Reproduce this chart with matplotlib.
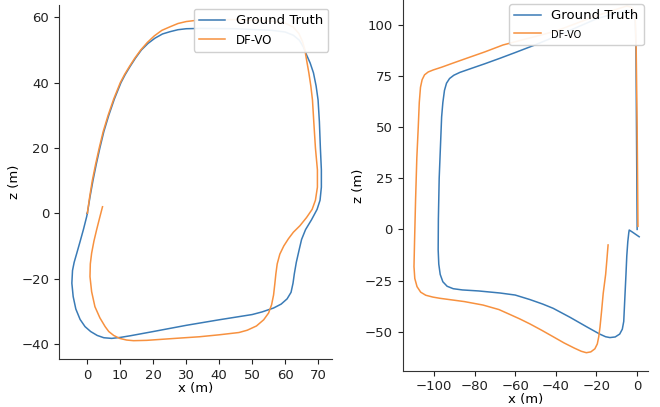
import matplotlib
matplotlib.use("Agg")
import matplotlib.pyplot as plt

# Sequence A: ground truth and DF-VO trajectories (x, z in metres)
seq_a_gt_x = [0, 0.8, 1.7, 2.7, 3.8, 5.0, 6.5, 8.2, 10.2, 11.5, 13, 14.6, 16.4, 18.4, 20.5, 22.8,
              25.1, 27.5, 30, 34.2, 45, 56, 60, 62.5, 64.3, 65.5, 66.5, 67.6, 68.6, 69.4,
              70, 70.4, 70.7, 71, 71, 70.6, 69.7, 68, 66.2, 65, 64.3, 63.4, 62.8, 62.4,
              61.8, 60.6, 58.8, 56.5, 53, 50, 40, 30, 20, 13, 10, 7.4, 5, 3, 1, -0.7,
              -2.2, -3.5, -4.3, -4.7, -4.5, -4, -3.2, -2.3, -1.2, -0.2, 0]
seq_a_gt_z = [0, 5, 10, 15, 20, 25, 30, 35, 40, 42.5, 45, 47.5, 50, 52, 53.6, 54.9,
              55.6, 56.2, 56.5, 56.6, 56.5, 56, 55.5, 54.5, 53, 51, 48.5, 46, 43, 39,
              34.7, 28, 20, 13.3, 8, 4, 1.2, -2, -5, -8, -11, -15, -18.5, -21.4,
              -24.2, -26.2, -27.8, -29, -30.2, -31, -32.6, -34.3, -36.2, -37.5, -38, -38.3, -38.1, -37.4, -36.2, -34.7,
              -32.5, -29.3, -25.5, -21.4, -17.5, -15, -12.2, -9, -5, -1, 0]

seq_a_vo_x = [0, 0.7, 1.5, 2.5, 3.6, 4.8, 6.3, 8.0, 10, 11.3, 12.8, 14.4, 16.2, 18.2, 20.3, 22.6,
              25.1, 27.5, 30, 34.2, 45, 56, 60, 62.5, 64.2, 65.3, 66, 66.5, 67.2, 67.8,
              68.3, 68.7, 69.2, 69.8, 69.8, 69.2, 68.2, 66.5, 64.5, 62.5, 61, 59.6, 58.4,
              57.6, 57.2, 56.9, 56.5, 55.9, 55, 53.5, 51.3, 48.5, 46, 40, 34, 26.6, 18,
              14, 11.9, 9.8, 8, 6.5, 5.4, 3.8, 2.3, 1.3, 0.8, 0.9, 1.3, 2, 2.8, 3.7, 4.6]
seq_a_vo_z = [0, 5, 10, 15, 20, 25, 30, 35, 40, 42.5, 45, 47.5, 50, 52.3, 54.3, 56,
              57.1, 58.1, 58.7, 59.2, 59.3, 58.8, 58.2, 57, 55, 52.5, 50, 47, 43, 39,
              34.7, 28, 20, 13.3, 8, 4, 1.2, -1.3, -3.8, -5.8, -7.8, -10, -12.5,
              -15.5, -18.5, -21.4, -25, -28, -30.5, -32.6, -34.5, -35.8, -36.5, -37.2, -37.8, -38.3, -38.9,
              -39, -38.8, -38.3, -37.4, -36.2, -34.7, -32, -28.6, -24, -19.4, -15.5, -12.2, -8.5, -5.1, -1.5, 2]

# Sequence B: ground truth and DF-VO trajectories (x, z in metres)
seq_b_gt_x = [0, -0.3, -0.6, -1, -2.5, -5, -20, -35, -50.3, -60, -67.5, -75, -82, -87.2,
              -90.2, -92.3, -93.8, -94.8, -95.6, -96.2, -96.8, -97.4, -97.8, -97.9, -97.6,
              -96.9, -95.6, -93.5, -90.5, -86, -78, -67.5, -60, -52.8, -46.5, -41.3, -33,
              -24.9, -18.4, -15.5, -13.4, -10.8, -8.6, -7.3, -6.6, -6.1, -5.5, -5.1, -4.6,
              -4.1, -3.9, -2.5, 1]
seq_b_gt_z = [0, 45, 90, 103, 106.5, 107.3, 103, 96.5, 90.2, 86.5, 83.7, 81, 78.6, 76.8,
              75.4, 73.8, 71.5, 68, 62, 55, 40, 25, 5, -10, -17,
              -22, -25.6, -27.8, -29, -29.6, -30.1, -31.1, -32.1, -34.3, -36.5, -38.6, -43,
              -47.6, -51.2, -52.5, -52.9, -52.6, -51.2, -48.8, -45, -34.5, -22, -13, -6,
              -1.5, -0.3, -1.2, -3.6]

seq_b_vo_x = [0.4, 0, -0.5, -1, -2.5, -5, -20, -40, -66, -75, -83.9, -91, -96, -100.3,
              -102.8, -104.6, -105.8, -106.6, -107.2, -107.7, -108.4, -109, -109.5, -109.8,
              -109.4, -108.3, -106.5, -104, -100.5, -97, -85, -75.8, -68, -62.6, -57.7,
              -52.8, -47, -41.3, -36, -31, -27.5, -25, -22.8, -20.8, -19.6, -18.9, -18.3,
              -17.5, -16.7, -15.5, -14.9, -14.5, -14.3]
seq_b_vo_z = [1.5, 50, 90, 105, 108.5, 109.3, 104.5, 97, 90.2, 86.8, 83.7, 81.2, 79.4, 78,
              77, 75.6, 73.2, 69.5, 62, 50, 35, 15, -5, -18.2,
              -24, -28, -30.7, -32.2, -33.1, -33.7, -35.3, -37, -39.2, -41.6, -43.8,
              -46.2, -49.3, -52.5, -55.5, -58, -59.6, -60.3, -59.9, -58.4, -56, -52.5, -48,
              -40, -31.3, -22, -15, -10, -7.6]

GT_COLOR = "#3a7bb6"
VO_COLOR = "#f7913f"

fig = plt.figure(figsize=(6.6, 4.07), dpi=100)

ax1 = fig.add_axes([0.0894, 0.118, 0.414, 0.870])
ax2 = fig.add_axes([0.610, 0.0892, 0.3717, 0.9108])

panels = [
    (ax1, seq_a_gt_x, seq_a_gt_z, seq_a_vo_x, seq_a_vo_z,
     (-8.6, 74.3), (-44.6, 63.8), range(0, 71, 10), range(-40, 61, 20), 8.5),
    (ax2, seq_b_gt_x, seq_b_gt_z, seq_b_vo_x, seq_b_vo_z,
     (-115.4, 5.3), (-69.1, 112.2), range(-100, 1, 20), range(-50, 101, 25), 7.0),
]

for ax, gx, gz, vx, vz, xl, yl, xt, yt, vo_fs in panels:
    ax.plot(gx, gz, color=GT_COLOR, lw=1.1, label="Ground Truth")
    ax.plot(vx, vz, color=VO_COLOR, lw=1.1, label="DF-VO")
    ax.set_xlim(*xl)
    ax.set_ylim(*yl)
    ax.set_xticks(list(xt))
    ax.set_yticks(list(yt))
    ax.tick_params(labelsize=9.5, colors="#222222")
    for side in ("top", "right"):
        ax.spines[side].set_visible(False)
    for side in ("left", "bottom"):
        ax.spines[side].set_color("#333333")
    ax.set_xlabel("x (m)", fontsize=9.5, labelpad=0)
    ax.set_ylabel("z (m)", fontsize=9.5, labelpad=0)
    leg = ax.legend(loc="upper right", fontsize=9.5, framealpha=0.92,
                    borderaxespad=0.3, handlelength=2.0)
    leg.get_texts()[1].set_fontsize(vo_fs)

fig.savefig("out.png", dpi=100)
